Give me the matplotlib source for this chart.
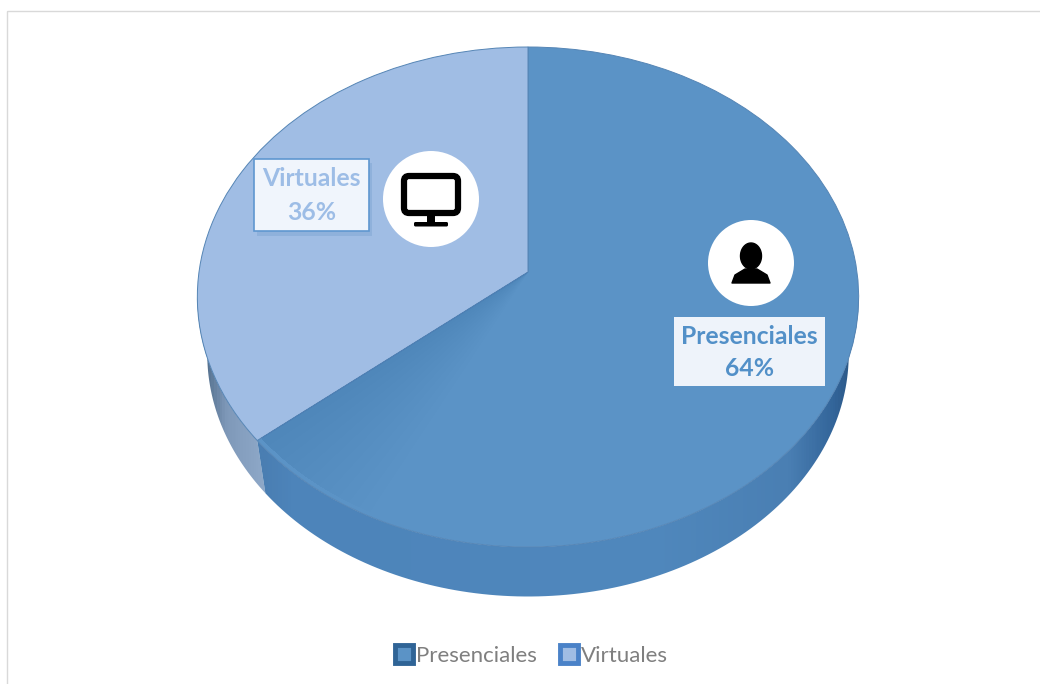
import matplotlib
matplotlib.use('Agg')
import matplotlib.pyplot as plt
import numpy as np
from matplotlib.patches import Circle, Rectangle, FancyBboxPatch, Polygon, Patch, Wedge
from matplotlib.transforms import Transform
from matplotlib.colors import LinearSegmentedColormap

categories = ['Presenciales', 'Virtuales']
values = [64, 36]
percent_labels = ['64%', '36%']

top_colors = ['#5b93c6', '#a0bde4']
text_colors = ['#5290c8', '#9dbde6']

plt.rcParams['font.family'] = ['Lato', 'DejaVu Sans']

# ellipse of the tilted pie, in pixels
CX, APEX_Y = 528, 272
A, C, D = 247.5, 0.1, 329


def persp(xy):
    xy = np.asarray(xy, dtype=float)
    w = 1 + C * xy[:, 1]
    return np.column_stack([CX + D * xy[:, 0] / w, APEX_Y - A * xy[:, 1] / w])


class Persp(Transform):
    input_dims = 2
    output_dims = 2

    def transform_non_affine(self, xy):
        return persp(xy)


def rim(t1, t2, n=120):
    t = np.deg2rad(np.linspace(t1, t2, n))
    return persp(np.column_stack([np.cos(t), np.sin(t)]))


def lower(pts):
    # bottom edge of the wall is a slightly smaller ellipse
    return np.column_stack([528 + (pts[:, 0] - 528) * 0.97, 354 + (pts[:, 1] - 297) * 0.97])


def wall(ax, t1, t2, xs, cols):
    up = rim(t1, t2)
    verts = np.vstack([up, lower(up)[::-1]])
    poly = Polygon(verts, closed=True, fc='none', ec='none', transform=ax.transData)
    ax.add_patch(poly)
    x0, x1 = 190, 865
    stops = [(x - x0) / (x1 - x0) for x in xs]
    cmap = LinearSegmentedColormap.from_list('w', list(zip(stops, cols)))
    im = ax.imshow(np.linspace(0, 1, 700)[None, :], extent=[x0, x1, 600, 290], cmap=cmap,
                   aspect='auto', zorder=1, vmin=0, vmax=1)
    im.set_clip_path(poly)


fig = plt.figure(figsize=(10.4, 6.84), dpi=100)
ax = fig.add_axes([0, 0, 1, 1])

seam = 90 - 360 * values[0] / sum(values) + 360

wall(ax, 185.7, seam, [190, 205, 225, 262, 865],
     ['#35506f', '#55718f', '#7f99b9', '#8ea8c8', '#8ea8c8'])
wall(ax, seam, 354.3, [190, 262, 290, 650, 790, 835, 865],
     ['#4a7eb2', '#4a7eb2', '#4d84ba', '#5088bd', '#4a7fb3', '#33659a', '#27507a'])

wedges, _ = ax.pie(values, startangle=90, counterclock=False, colors=top_colors,
                   wedgeprops={'edgecolor': '#5585b5', 'linewidth': 0.7})
for w in wedges:
    w.set_transform(Persp() + ax.transData)
    w.set_zorder(2)

# darker band on the top face next to the seam, fades out going round
for span in np.arange(2, 26, 2):
    shade = Wedge((0, 0), 0.985, seam, seam + span, fc='#4a80b5', ec='none', alpha=0.05, zorder=2.1)
    shade.set_transform(Persp() + ax.transData)
    ax.add_patch(shade)

ax.set_aspect('auto')
ax.set_xlim(0, 1040)
ax.set_ylim(684, 0)
ax.axis('off')

# chart frame, runs off the right and bottom of the picture
ax.add_patch(Rectangle((6.5, 10.5), 1100, 800, fc='none', ec='#d9d9d9', lw=1, zorder=0))

# Virtuales label and icon
ax.add_patch(Rectangle((257, 163), 115, 73, fc='#5d8fc4', alpha=0.25, ec='none', zorder=3))
ax.add_patch(Rectangle((254, 159), 115, 72, fc='#f0f5fc', ec='#5f97d0', lw=1.2, zorder=3))
ax.text(311.5, 179, categories[1], color=text_colors[1], fontsize=17.8, fontweight='bold',
        ha='center', va='center', zorder=4)
ax.text(311.5, 213, percent_labels[1], color=text_colors[1], fontsize=17.8, fontweight='bold',
        ha='center', va='center', zorder=4)
ax.add_patch(Circle((431, 199), 48, fc='white', ec='none', zorder=3))
ax.add_patch(FancyBboxPatch((404, 176), 54, 37, boxstyle='round,pad=0,rounding_size=5',
                            fc='white', ec='black', lw=4.5, zorder=4))
ax.add_patch(Rectangle((427, 215), 8, 8, fc='black', ec='none', zorder=4))
ax.add_patch(FancyBboxPatch((414, 222), 34, 4.5, boxstyle='round,pad=0,rounding_size=1.5',
                            fc='black', ec='none', zorder=4))

# Presenciales label and icon
ax.add_patch(Rectangle((674, 317), 151, 69, fc='#eef3fa', ec='none', zorder=3))
ax.text(749.5, 336, categories[0], color=text_colors[0], fontsize=17.8, fontweight='bold',
        ha='center', va='center', zorder=4)
ax.text(749.5, 368, percent_labels[0], color=text_colors[0], fontsize=17.8, fontweight='bold',
        ha='center', va='center', zorder=4)
ax.add_patch(Circle((751, 263), 43, fc='white', ec='none', zorder=3))
t = np.linspace(0, 2 * np.pi, 60)
ax.fill(751 + 10.5 * np.cos(t), 256 + 13 * np.sin(t), color='black', zorder=4)
ax.add_patch(Polygon([(732, 283), (735, 275), (745, 269), (757, 269), (767, 275), (770, 283)],
                     closed=True, fc='black', ec='black', lw=1, joinstyle='round', zorder=4))

handles = [Patch(fc=top_colors[0], ec='#2f6496', lw=3.5),
           Patch(fc=top_colors[1], ec='#4a82c8', lw=3.5)]
ax.legend(handles, categories, loc='center', bbox_to_anchor=(531.5 / 1040, 1 - 655.5 / 684),
          ncol=2, frameon=False, fontsize=16, labelcolor='#7f7f7f', handlelength=0.82,
          handleheight=0.82, handletextpad=0.15, columnspacing=1.0)

fig.savefig('out.png', dpi=100)
